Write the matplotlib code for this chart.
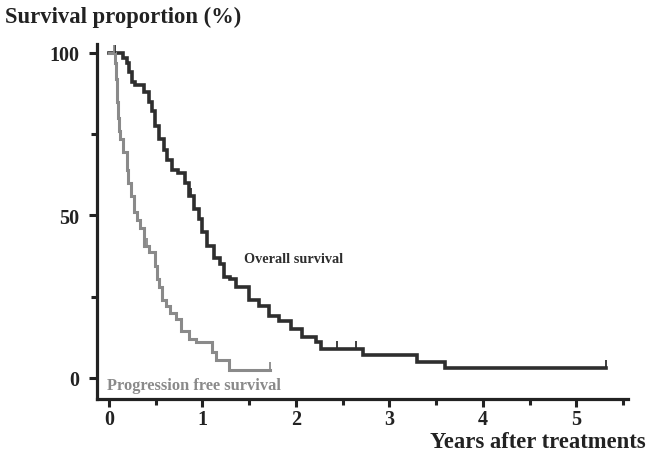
import matplotlib
matplotlib.use("Agg")
import matplotlib.pyplot as plt
from matplotlib.ticker import FixedLocator

# ---- data ----
os_t = [0, 0.15, 0.19, 0.22, 0.25, 0.28, 0.38, 0.43, 0.46, 0.49, 0.54, 0.59, 0.62, 0.68,
        0.74, 0.81, 0.86, 0.91, 0.96, 1.00, 1.05, 1.12, 1.19, 1.23, 1.29, 1.36, 1.50,
        1.60, 1.71, 1.82, 1.95, 2.06, 2.21, 2.27, 2.72, 3.30, 3.59, 5.32]
os_s = [100, 98.5, 97, 94, 91, 90, 88, 85, 82, 77.5, 73.5, 70, 67, 64,
        63, 60, 56, 52, 49, 45, 40.6, 37, 35, 31, 30.5, 28, 24,
        22, 19, 17.5, 15, 12.5, 11, 9, 7, 5, 3, 3]
os_cens_t = [0.06, 0.88, 2.44, 2.64, 5.32]
os_cens_s = [100, 56, 9, 9, 3]

pfs_t = [0, 0.07, 0.08, 0.09, 0.10, 0.11, 0.12, 0.15, 0.19, 0.20, 0.24, 0.27, 0.30, 0.33,
         0.38, 0.43, 0.49, 0.51, 0.54, 0.57, 0.61, 0.65, 0.72, 0.77, 0.86, 0.93, 1.10,
         1.15, 1.28, 1.72]
pfs_s = [100, 97, 92, 85, 80, 76, 73.5, 69.5, 64, 60, 56, 51, 48.5, 46,
         40.6, 38.8, 34.5, 30.5, 28, 24, 22, 20, 18, 14.5, 12, 11, 8,
         5.5, 2.5, 2.5]
pfs_cens_t = [0.05, 0.41, 1.72]
pfs_cens_s = [100, 40.6, 2.5]

x_ticks = [0, 1, 2, 3, 4, 5]
y_ticks = [0, 50, 100]
y_tick_labels = ["0", "50", "100"]

os_color = "#2e2e2e"
pfs_color = "#8a8a8a"
serif = ["Liberation Serif", "DejaVu Serif"]

fig = plt.figure(figsize=(6.49, 4.60), dpi=100)
ax = fig.add_axes([0.1495, 0.1304, 0.818, 0.772])

ax.step(os_t, os_s, where="post", color=os_color, lw=2.6, solid_joinstyle="miter")
ax.step(pfs_t, pfs_s, where="post", color=pfs_color, lw=2.2, solid_joinstyle="miter")
ax.plot(os_cens_t, [s + 1.2 for s in os_cens_s], ls="none", marker="|", ms=6, mew=1.3, color=os_color)
ax.plot(pfs_cens_t, [s + 1.2 for s in pfs_cens_s], ls="none", marker="|", ms=6, mew=1.3, color=pfs_color)

ax.set_xlim(-0.127, 5.55)
ax.set_ylim(-6.5, 102.8)

for side in ["top", "right"]:
    ax.spines[side].set_visible(False)
for side in ["left", "bottom"]:
    ax.spines[side].set_linewidth(2.3)
    ax.spines[side].set_color("#222222")

ax.xaxis.set_major_locator(FixedLocator(x_ticks))
ax.xaxis.set_minor_locator(FixedLocator([0.5, 1.5, 2.5, 3.5, 4.5, 5.5]))
ax.yaxis.set_major_locator(FixedLocator(y_ticks))
ax.yaxis.set_minor_locator(FixedLocator([25, 75]))
ax.set_yticklabels(y_tick_labels)
ax.set_xticklabels([str(v) for v in x_ticks])

ax.tick_params(axis="both", which="major", direction="out", length=6, width=2.2, color="#222222")
ax.tick_params(axis="both", which="minor", direction="out", length=4, width=2.2, color="#222222")
ax.tick_params(axis="x", which="major", pad=1)
ax.tick_params(axis="y", which="major", pad=7)
for lab in ax.get_xticklabels() + ax.get_yticklabels():
    lab.set_fontfamily(serif)
    lab.set_fontweight("bold")
    lab.set_fontsize(14.5)
    lab.set_color("#222222")

fig.text(0.008, 0.962, "Survival proportion (%)", family=serif, weight="bold",
         fontsize=16.3, color="#222222", ha="left", va="center")
fig.text(0.995, 0.037, "Years after treatments", family=serif, weight="bold",
         fontsize=16.3, color="#222222", ha="right", va="center")

ax.text(1.45, 36.8, "Overall survival", family=serif, weight="bold", fontsize=10.3,
        color=os_color, ha="left", va="center")
ax.text(-0.02, -2.3, "Progression free survival", family=serif, weight="bold", fontsize=11.8,
        color=pfs_color, ha="left", va="center")

fig.savefig("out.png", dpi=100)
